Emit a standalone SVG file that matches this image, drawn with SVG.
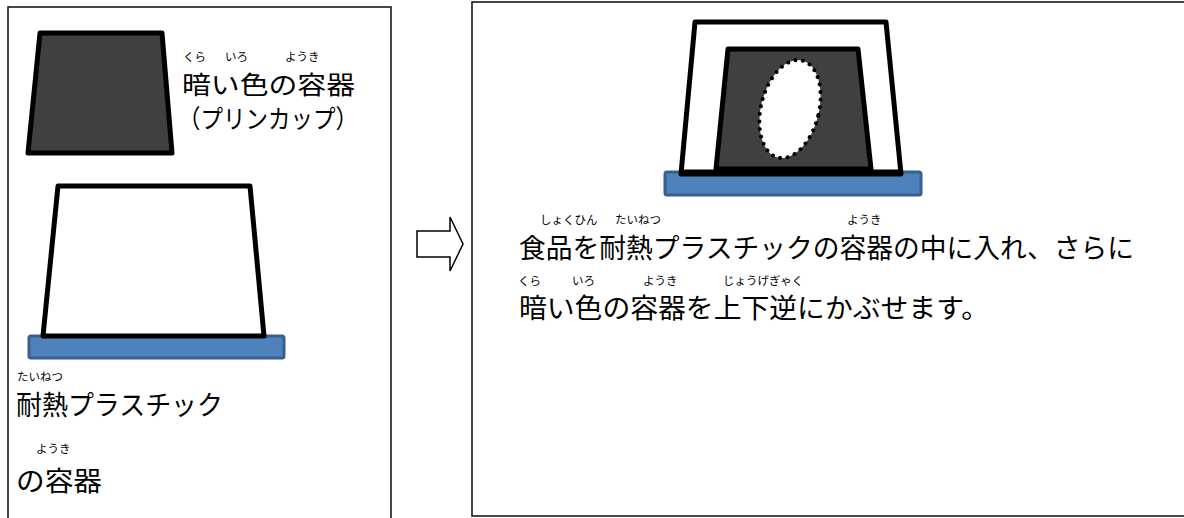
<svg xmlns="http://www.w3.org/2000/svg" width="1184" height="518" viewBox="0 0 1184 518">
  <style>
    .panel { fill: #ffffff; stroke: #1a1a1a; stroke-width: 1.6; }
    .cup { stroke: #000000; stroke-width: 5; stroke-linejoin: round; }
    .dark { fill: #404040; }
    .light { fill: #ffffff; }
    .tray { fill: #4f81bd; stroke: #3a5f8c; stroke-width: 3; }
    .main { font-family: "Noto Sans CJK JP", "Noto Sans", sans-serif; font-size: 27px; fill: #000000; }
    .tight { font-size: 25.5px; }
    .ruby { font-family: "Noto Sans CJK JP", "Noto Sans", sans-serif; font-size: 11.5px; fill: #000000; }
  </style>

  <rect width="1184" height="518" fill="#ffffff"/>

  <!-- left panel: the two containers -->
  <g id="panel-left">
    <rect class="panel" x="8" y="7" width="383" height="530"/>
  </g>

  <g id="dark-cup">
    <polygon class="cup dark" points="40,33 162,33 172,153 28,153"/>
    <text class="ruby" x="183" y="61">くら</text>
    <text class="ruby" x="225" y="61">いろ</text>
    <text class="ruby" x="285" y="61">ようき</text>
    <text class="main tight" x="182" y="94" textLength="173" lengthAdjust="spacingAndGlyphs">暗い色の容器</text>
    <text class="main tight" x="178" y="128" textLength="180" lengthAdjust="spacingAndGlyphs">（プリンカップ）</text>
  </g>

  <g id="plastic-cup">
    <rect class="tray" x="29" y="336" width="255" height="22" rx="2"/>
    <polygon class="cup light" points="58,186 250,186 264,336 43,336"/>
    <text class="ruby" x="17" y="381">たいねつ</text>
    <text class="main" x="16" y="415" textLength="207" lengthAdjust="spacingAndGlyphs">耐熱プラスチック</text>
    <text class="ruby" x="36" y="453">ようき</text>
    <text class="main" x="16" y="491" textLength="86" lengthAdjust="spacingAndGlyphs">の容器</text>
  </g>

  <!-- connector between the panels -->
  <g id="connectors">
    <polygon points="417,231 450,231 450,217 463,244 450,271 450,257 417,257" fill="#ffffff" stroke="#000000" stroke-width="1.5" stroke-linejoin="miter"/>
  </g>

  <!-- right panel: stacked containers with food inside -->
  <g id="panel-right">
    <rect class="panel" x="472" y="2" width="730" height="514"/>
  </g>

  <g id="stacked-cups">
    <rect class="tray" x="665" y="172" width="256" height="23" rx="2"/>
    <polygon class="cup light" points="695,22 886,22 901,174 681,174"/>
    <polygon class="cup dark" points="728,49 858,49 871,169 716,169"/>
    <line x1="681" y1="172" x2="901" y2="172" stroke="#000000" stroke-width="5"/>
    <ellipse cx="790" cy="109" rx="29" ry="50" transform="rotate(14 790 109)" fill="#ffffff" stroke="#000000" stroke-width="4" stroke-linecap="round" stroke-dasharray="0 7.6"/>
  </g>

  <g id="caption">
    <text class="ruby" x="540" y="224">しょくひん</text>
    <text class="ruby" x="615" y="224">たいねつ</text>
    <text class="ruby" x="847" y="224">ようき</text>
    <text class="main" x="519" y="258" textLength="615" lengthAdjust="spacingAndGlyphs">食品を耐熱プラスチックの容器の中に入れ、さらに</text>
    <text class="ruby" x="518" y="285">くら</text>
    <text class="ruby" x="572" y="285">いろ</text>
    <text class="ruby" x="643" y="285">ようき</text>
    <text class="ruby" x="723" y="285">じょうげぎゃく</text>
    <text class="main" x="519" y="318" textLength="470" lengthAdjust="spacingAndGlyphs">暗い色の容器を上下逆にかぶせます。</text>
  </g>
</svg>
